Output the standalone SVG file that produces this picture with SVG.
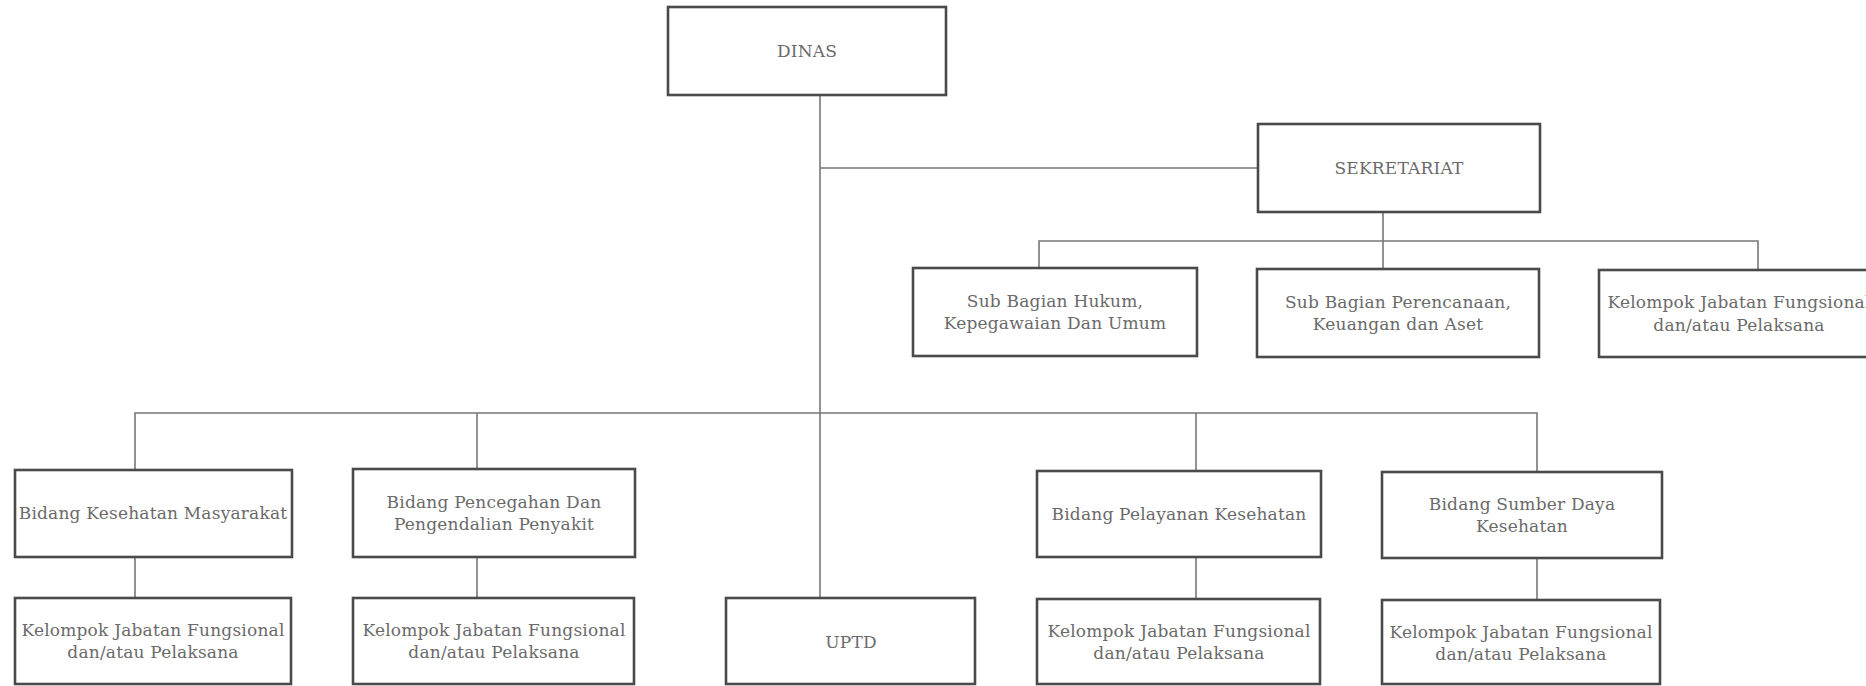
<svg xmlns="http://www.w3.org/2000/svg" width="1866" height="686" viewBox="0 0 1866 686">
<style>
.box{fill:#ffffff;stroke:#4a4a4a;stroke-width:2.6}
.lbl{font-family:"DejaVu Serif","Liberation Serif",serif;font-size:17px;letter-spacing:0.2px;fill:#6a6a6a;text-anchor:middle;dominant-baseline:central}
.con{stroke:#777777;stroke-width:1.6;fill:none}
</style>
<rect width="1866" height="686" fill="#ffffff"/>
<g id="connectors">
<path class="con" d="M820 95 V598"/>
<path class="con" d="M820 168 H1258"/>
<path class="con" d="M1383 212 V269"/>
<path class="con" d="M1039 268 V241 H1758 V270"/>
<path class="con" d="M135 470 V413 H1537 V472"/>
<path class="con" d="M477 413 V469"/>
<path class="con" d="M1196 413 V471"/>
<path class="con" d="M135 557 V598"/>
<path class="con" d="M477 557 V598"/>
<path class="con" d="M1196 557 V599"/>
<path class="con" d="M1537 558 V600"/>
</g>
<g id="dinas"><rect class="box" x="668" y="7" width="278" height="88"/><text class="lbl" x="807" y="51">DINAS</text></g>
<g id="sekretariat"><rect class="box" x="1258" y="124" width="282" height="88"/><text class="lbl" x="1399" y="168">SEKRETARIAT</text></g>
<g id="subbag-hukum"><rect class="box" x="913" y="268" width="284" height="88"/><text class="lbl" x="1055" y="301">Sub Bagian Hukum,</text><text class="lbl" x="1055" y="323">Kepegawaian Dan Umum</text></g>
<g id="subbag-perencanaan"><rect class="box" x="1257" y="269" width="282" height="88"/><text class="lbl" x="1398" y="302">Sub Bagian Perencanaan,</text><text class="lbl" x="1398" y="324">Keuangan dan Aset</text></g>
<g id="kjf-sekretariat"><rect class="box" x="1599" y="270" width="281" height="87"/><text class="lbl" x="1739" y="302">Kelompok Jabatan Fungsional</text><text class="lbl" x="1739" y="325">dan/atau Pelaksana</text></g>
<g id="bidang-kesmas"><rect class="box" x="15" y="470" width="277" height="87"/><text class="lbl" x="153" y="513">Bidang Kesehatan Masyarakat</text></g>
<g id="bidang-p2p"><rect class="box" x="353" y="469" width="282" height="88"/><text class="lbl" x="494" y="502">Bidang Pencegahan Dan</text><text class="lbl" x="494" y="524">Pengendalian Penyakit</text></g>
<g id="bidang-yankes"><rect class="box" x="1037" y="471" width="284" height="86"/><text class="lbl" x="1179" y="514">Bidang Pelayanan Kesehatan</text></g>
<g id="bidang-sdk"><rect class="box" x="1382" y="472" width="280" height="86"/><text class="lbl" x="1522" y="504">Bidang Sumber Daya</text><text class="lbl" x="1522" y="526">Kesehatan</text></g>
<g id="kjf-kesmas"><rect class="box" x="15" y="598" width="276" height="86"/><text class="lbl" x="153" y="630">Kelompok Jabatan Fungsional</text><text class="lbl" x="153" y="652">dan/atau Pelaksana</text></g>
<g id="kjf-p2p"><rect class="box" x="353" y="598" width="281" height="86"/><text class="lbl" x="494" y="630">Kelompok Jabatan Fungsional</text><text class="lbl" x="494" y="652">dan/atau Pelaksana</text></g>
<g id="uptd"><rect class="box" x="726" y="598" width="249" height="86"/><text class="lbl" x="851" y="642">UPTD</text></g>
<g id="kjf-yankes"><rect class="box" x="1037" y="599" width="283" height="85"/><text class="lbl" x="1179" y="631">Kelompok Jabatan Fungsional</text><text class="lbl" x="1179" y="653">dan/atau Pelaksana</text></g>
<g id="kjf-sdk"><rect class="box" x="1382" y="600" width="278" height="84"/><text class="lbl" x="1521" y="632">Kelompok Jabatan Fungsional</text><text class="lbl" x="1521" y="654">dan/atau Pelaksana</text></g>
</svg>
